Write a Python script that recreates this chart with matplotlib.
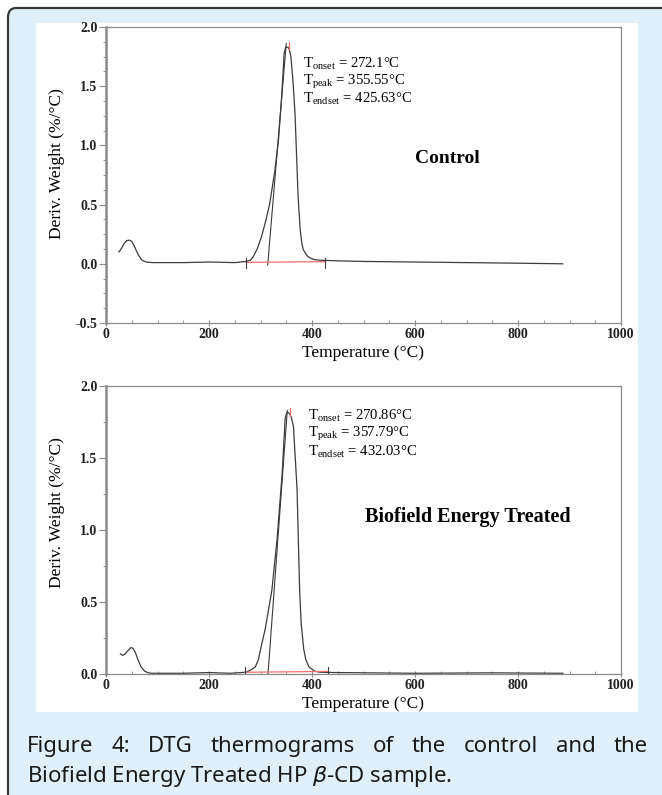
import matplotlib
matplotlib.use("Agg")
import matplotlib.pyplot as plt
from matplotlib.patches import FancyBboxPatch, Rectangle
from matplotlib.ticker import MultipleLocator

# DTG curve
t_control = [25, 30, 35, 40, 45, 50, 55, 60, 65, 70, 78, 90, 150, 200, 250,
             272, 280, 286, 294, 302, 310, 318, 328, 335, 341, 346, 349, 353,
             356, 359, 363, 367, 370, 373, 377, 380, 383, 390, 396, 405, 416,
             450, 500, 600, 700, 800, 887]
d_control = [0.10, 0.13, 0.17, 0.195, 0.20, 0.19, 0.15, 0.10, 0.06, 0.03,
             0.015, 0.01, 0.01, 0.015, 0.01, 0.02, 0.03, 0.06, 0.13, 0.23,
             0.36, 0.51, 0.79, 1.05, 1.41, 1.78, 1.83, 1.83, 1.81, 1.75, 1.55,
             1.27, 0.92, 0.57, 0.29, 0.18, 0.12, 0.07, 0.05, 0.035, 0.03,
             0.025, 0.02, 0.015, 0.01, 0.005, 0.0]

# DTG curve
t_treated = [28, 32, 36, 42, 48, 52, 57, 62, 68, 75, 82, 89, 150, 200, 240,
             265, 274, 282, 290, 296, 300, 309, 322, 332, 342, 348, 352, 356,
             360, 364, 371, 376, 379, 384, 388, 394, 405, 416, 450, 600, 750,
             887]
d_treated = [0.14, 0.13, 0.135, 0.16, 0.183, 0.18, 0.15, 0.10, 0.05, 0.02,
             0.008, 0.005, 0.005, 0.01, 0.005, 0.01, 0.015, 0.03, 0.05, 0.10,
             0.17, 0.31, 0.58, 0.93, 1.39, 1.78, 1.82, 1.81, 1.78, 1.72, 1.28,
             0.58, 0.35, 0.17, 0.10, 0.05, 0.02, 0.012, 0.01, 0.005, 0.008,
             0.005]

# onset / peak / endset values
onset = [272.1, 270.86]
peak = [355.55, 357.79]
endset = [425.63, 432.03]
peak_height = [1.84, 1.82]
tangent_x = [[314, 350], [314.6, 352]]
tangent_y = [[-0.01, 1.86], [0.0, 1.83]]

labels = ["Control", "Biofield Energy Treated"]
onset_txt = ["272.1", "270.86"]
peak_txt = ["355.55", "357.79"]
endset_txt = ["425.63", "432.03"]

serif = "Liberation Serif"
plt.rcParams["mathtext.fontset"] = "custom"
plt.rcParams["mathtext.rm"] = serif

W, H = 662, 795
fig = plt.figure(figsize=(W / 100, H / 100), dpi=100)
fig.patch.set_facecolor("white")

# light blue box with dark rounded border
fig.patches.append(FancyBboxPatch((8 / W, -0.05), 1.1, 1 - 8 / H + 0.05,
                                  boxstyle="round,pad=0,rounding_size=0.012",
                                  transform=fig.transFigure, facecolor="#dff0fa",
                                  edgecolor="#3a3a3a", linewidth=1.6, zorder=-3))
fig.patches.append(Rectangle((36 / W, 1 - 712 / H), (638 - 36) / W, (712 - 23) / H,
                             transform=fig.transFigure, facecolor="white",
                             edgecolor="none", zorder=-2))

lc = "#3c3c3c"

ax_top = fig.add_axes([106 / W, 1 - 323 / H, 515 / W, (323 - 27) / H])
ax_bot = fig.add_axes([106 / W, 1 - 674 / H, 515 / W, (674 - 386) / H])

setups = [(ax_top, t_control, d_control, (-0.5, 2.0), 0.125, (662, 0.89), (382, 1.54), 14),
          (ax_bot, t_treated, d_treated, (0.0, 2.0), 0.25, (702, 1.09), (393, 1.67), 14.5)]

for i, (ax, t, d, ylim, yminor, lab_pos, txt_pos, lab_size) in enumerate(setups):
    ax.set_facecolor("none")
    ax.plot(t, d, color=lc, lw=0.9)
    ax.plot(tangent_x[i], tangent_y[i], color=lc, lw=0.8)
    ax.plot([onset[i], endset[i]], [0.012, 0.018], color="#f07070", lw=0.9)
    ax.plot([peak[i], peak[i]], [peak_height[i] - 0.03, peak_height[i] + 0.03],
            color="#f07070", lw=0.9)
    for xv in (onset[i], endset[i]):
        ax.plot([xv, xv], [-0.035, 0.05], color=lc, lw=0.8)
    ax.set_xlim(0, 1000)
    ax.set_ylim(*ylim)
    ax.xaxis.set_major_locator(MultipleLocator(200))
    ax.xaxis.set_minor_locator(MultipleLocator(50))
    ax.yaxis.set_major_locator(MultipleLocator(0.5))
    ax.yaxis.set_minor_locator(MultipleLocator(yminor))
    ax.yaxis.set_major_formatter(matplotlib.ticker.FormatStrFormatter("%.1f"))
    for s in ax.spines.values():
        s.set_color("#8a8a8a")
        s.set_linewidth(0.9)
    ax.spines["left"].set_linewidth(1.8)
    ax.tick_params(axis="y", which="major", direction="out", length=5, width=0.8,
                   color="#8a8a8a", pad=1, labelsize=10)
    ax.tick_params(axis="y", which="minor", direction="out", length=2.5, width=0.6,
                   color="#8a8a8a")
    ax.tick_params(axis="x", which="major", direction="inout", length=5, width=0.8,
                   color="#8a8a8a", pad=1, labelsize=10)
    ax.tick_params(axis="x", which="minor", direction="in", length=2.5, width=0.6,
                   color="#8a8a8a")
    for lab in ax.get_xticklabels() + ax.get_yticklabels():
        lab.set_fontfamily(serif)
        lab.set_fontweight("bold")
        lab.set_color("#222222")
    ax.set_xlabel("Temperature (°C)", fontfamily=serif, fontsize=12.5, labelpad=0)
    ax.set_ylabel("Deriv. Weight (%/°C)", fontfamily=serif, fontsize=12.5)
    ax.text(lab_pos[0], lab_pos[1], labels[i], fontfamily=serif, fontsize=lab_size,
            fontweight="bold", ha="center", va="center")
    rows = [r"T$_{\mathregular{onset}}$ = " + onset_txt[i] + "°C",
            r"T$_{\mathregular{peak}}$ = " + peak_txt[i] + "°C",
            r"T$_{\mathregular{endset}}$ = " + endset_txt[i] + "°C"]
    ax.text(txt_pos[0], txt_pos[1], "\n".join(rows), fontfamily=serif,
            fontsize=10.6, ha="left", va="center", linespacing=1.0)

ax_top.xaxis.set_label_coords(0.5, -0.075)
ax_bot.xaxis.set_label_coords(0.5, -0.075)
ax_top.yaxis.set_label_coords(-0.08, 0.54)
ax_bot.yaxis.set_label_coords(-0.08, 0.56)

# justified caption
cap_font = dict(fontfamily="Noto Sans", fontsize=16, color="#1a1a1a")
line1 = "Figure 4: DTG thermograms of the control and the".split()
y1 = 1 - 752 / H
y2 = 1 - 782 / H
renderer = fig.canvas.get_renderer()
objs = [fig.text(0, y1, w, va="baseline", ha="left", **cap_font) for w in line1]
widths = [o.get_window_extent(renderer).width for o in objs]
x0, x1 = 27, 648
gap = (x1 - x0 - sum(widths)) / (len(objs) - 1)
xp = x0
for o, wd in zip(objs, widths):
    o.set_x(xp / W)
    xp += wd + gap
fig.text(27 / W, y2, r"Biofield Energy Treated HP $\it{\beta}$-CD sample.",
         va="baseline", ha="left", **cap_font)

fig.savefig("out.png", dpi=100)
